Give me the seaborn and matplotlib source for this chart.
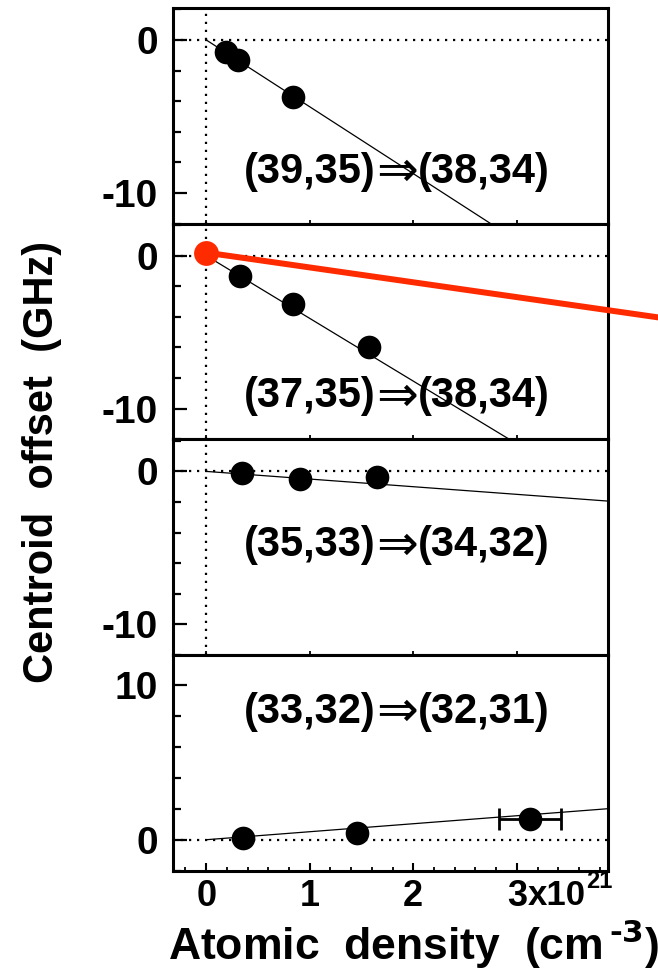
import matplotlib
matplotlib.use("Agg")
import matplotlib.pyplot as plt
from matplotlib.ticker import FixedLocator, MultipleLocator
import seaborn as sns

# Rydberg transitions shown in each panel: (n,l) upper -> lower
upper_states = ["(39,35)", "(37,35)", "(35,33)", "(33,32)"]
lower_states = ["(38,34)", "(38,34)", "(34,32)", "(32,31)"]

# Measured centroid offsets (GHz) vs atomic density (units of 1e21 cm^-3)
density_3935 = [0.19, 0.31, 0.84]
offset_3935 = [-0.76, -1.31, -3.70]
density_3735 = [0.33, 0.84, 1.57]
offset_3735 = [-1.30, -3.18, -6.00]
density_3533 = [0.35, 0.91, 1.65]
offset_3533 = [-0.13, -0.52, -0.39]
density_3332 = [0.36, 1.46, 3.13]
offset_3332 = [0.13, 0.45, 1.35]
density_err_3332 = [0.0, 0.0, 0.30]

# Linear density shifts through the origin (GHz per 1e21 cm^-3)
fit_slopes = [-4.37, -4.10, -0.50, 0.515]
fit_range = [0.0, 4.0]

# Low-density point and shift for (37,35)->(38,34)
ref_density = [0.0]
ref_offset = [0.2]
ref_slope = -0.97
ref_range = [0.0, 4.5]

densities = [density_3935, density_3735, density_3533, density_3332]
offsets = [offset_3935, offset_3735, offset_3533, offset_3332]

x_ticks = [0, 1, 2, 3]
x_ticklabels = ["0", "1", "2", "3"]

sns.set_style("ticks")
plt.rcParams.update({
    "font.family": ["Liberation Sans", "DejaVu Sans"],
    "font.weight": "bold",
    "axes.unicode_minus": False,
    "mathtext.default": "regular",
    "text.color": "black",
    "axes.labelcolor": "black",
    "xtick.color": "black",
    "ytick.color": "black",
    "axes.edgecolor": "black",
})

BOLD = dict(fontweight="bold", family=["Liberation Sans", "DejaVu Sans"],
            color="black")
RED = "#ff2b00"

fig, axes = plt.subplots(4, 1, sharex=True, figsize=(6.58, 9.74), dpi=100)
fig.subplots_adjust(left=0.263, right=0.924, top=0.992, bottom=0.106, hspace=0)

label_y = [-8.6, -9.2, -4.84, 8.26]
label_x = 1.84
dot = (0, (1, 2.6))

for i, ax in enumerate(axes):
    x = densities[i]
    y = offsets[i]

    # zero reference lines
    ax.axhline(0, color="black", lw=1.6, ls=dot, zorder=1)
    if i < 3:
        ax.axvline(0, color="black", lw=1.6, ls=dot, zorder=1)

    # linear density shift
    sns.lineplot(x=fit_range, y=[fit_slopes[i] * v for v in fit_range], ax=ax,
                 color="black", lw=0.9, zorder=2)

    if i == 3:
        ax.errorbar(x, y, xerr=density_err_3332, fmt="none", ecolor="black",
                    elinewidth=2.0, capsize=8, capthick=2.0, zorder=3)

    sns.scatterplot(x=x, y=y, ax=ax, s=290, color="black", edgecolor="black",
                    linewidth=0, zorder=4)

    if i == 1:
        sns.lineplot(x=ref_range,
                     y=[ref_offset[0] + ref_slope * v for v in ref_range],
                     ax=ax, color=RED, lw=4.3, zorder=5)
        ax.lines[-1].set_clip_on(False)
        sns.scatterplot(x=ref_density, y=ref_offset, ax=ax, s=320, color=RED,
                        edgecolor=RED, linewidth=0, zorder=6, clip_on=False)

    # transition label: upper => lower
    ax.annotate(upper_states[i], xy=(label_x, label_y[i]), xytext=(-15.5, 0),
                textcoords="offset points", ha="right", va="center",
                fontsize=30, **BOLD)
    ax.annotate("\u21d2", xy=(label_x, label_y[i]), xytext=(0, 0),
                textcoords="offset points", ha="center", va="center",
                fontsize=36, fontweight="normal", family="DejaVu Sans",
                color="black")
    ax.annotate(lower_states[i], xy=(label_x, label_y[i]), xytext=(15.5, 0),
                textcoords="offset points", ha="left", va="center",
                fontsize=30, **BOLD)

    ax.set_xlim(-0.32, 3.88)
    if i < 3:
        ax.set_ylim(-12, 2.1)
        ax.yaxis.set_major_locator(FixedLocator([-10, 0]))
        ax.set_yticklabels(["-10", "0"])
    else:
        ax.set_ylim(-2, 11.9)
        ax.yaxis.set_major_locator(FixedLocator([0, 10]))
        ax.set_yticklabels(["0", "10"])
    ax.yaxis.set_minor_locator(MultipleLocator(2))

    for side in ["top", "bottom", "left", "right"]:
        ax.spines[side].set_visible(True)
        ax.spines[side].set_linewidth(2.2)
        ax.spines[side].set_color("black")

    ax.tick_params(axis="y", which="major", direction="in", length=10, width=1.6,
                   labelsize=28, pad=11, left=True, right=False,
                   colors="black")
    ax.tick_params(axis="y", which="minor", direction="in", length=5.5, width=1.6,
                   left=True, right=False, colors="black")
    for t in ax.get_yticklabels():
        t.set_fontweight("bold")
    ax.set_xlabel("")
    ax.set_ylabel("")

axes[-1].xaxis.set_major_locator(FixedLocator(x_ticks))
axes[-1].xaxis.set_minor_locator(MultipleLocator(0.2))
axes[-1].set_xticklabels(x_ticklabels)
for ax in axes[:-1]:
    ax.tick_params(axis="x", which="major", direction="in", length=3, width=1.3,
                   bottom=True, top=False, labelbottom=False, colors="black")
    ax.tick_params(axis="x", which="minor", length=0, bottom=False, top=False)
axes[-1].tick_params(axis="x", which="major", direction="in", length=5.5, width=1.5,
                     labelsize=26, pad=6, bottom=True, top=False, colors="black")
axes[-1].tick_params(axis="x", which="minor", direction="in", length=3, width=1.3,
                     bottom=True, top=False, colors="black")
for t in axes[-1].get_xticklabels():
    t.set_fontweight("bold")

# multiplier beside the last density tick
mult = axes[-1].annotate("x10", xy=(3, 0), xycoords=axes[-1].get_xaxis_transform(),
                         xytext=(7.5, -6), textcoords="offset points", ha="left",
                         va="top", fontsize=25, **BOLD)
axes[-1].annotate("21", xy=(1.0, 1.0), xycoords=mult, xytext=(0.3, 6.5),
                  textcoords="offset points", ha="left", va="top",
                  fontsize=17, **BOLD)

fig.text(414 / 658, 1 - 960 / 974, r"Atomic  density  (cm$^{\,\text{-3}}$)",
         ha="center", va="baseline", fontsize=32, **BOLD)
fig.text(42 / 658, 1 - 462 / 974, "Centroid  offset  (GHz)", rotation=90,
         ha="center", va="center", fontsize=30, **BOLD)

fig.savefig("out.png", dpi=100)
